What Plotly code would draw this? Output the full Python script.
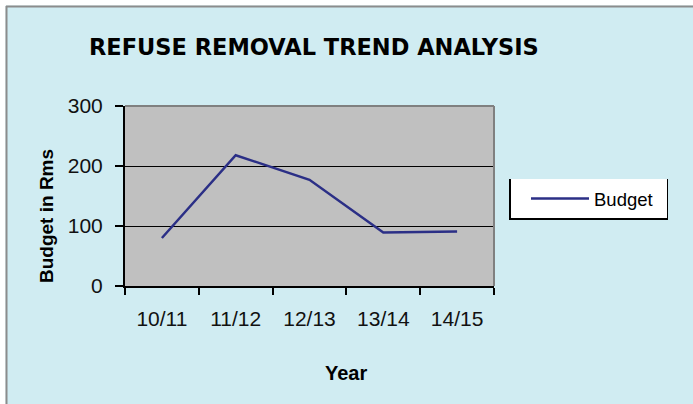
import plotly.graph_objects as go

# ---- data ----
years = ["10/11", "11/12", "12/13", "13/14", "14/15"]
budget = [80, 218, 177, 89, 91]
y_ticks = [0, 100, 200, 300]

W, H = 693, 404
L, R, T, B = 125, 199, 106, 118
PW, PH = W - L - R, H - T - B


def px(xp):
    return (xp - L) / PW


def py(yp):
    return (H - B - yp) / PH


fig = go.Figure()
fig.add_trace(go.Scatter(
    x=years, y=budget, mode="lines", name="Budget",
    line=dict(color="#2B2F86", width=2.5),
))

cyan = "#D0ECF2"
shapes = [
    # white strips at top and left of the image
    dict(type="rect", xref="paper", yref="paper", x0=px(-5), x1=px(W + 5), y0=py(5.5), y1=py(-5),
         fillcolor="white", line=dict(width=0), layer="above"),
    dict(type="rect", xref="paper", yref="paper", x0=px(-5), x1=px(5.5), y0=py(H + 5), y1=py(-5),
         fillcolor="white", line=dict(width=0), layer="above"),
    dict(type="line", xref="paper", yref="paper", x0=px(6), x1=px(W + 5), y0=py(6.5), y1=py(6.5),
         line=dict(color="#8C8C8C", width=2), layer="above"),
    dict(type="line", xref="paper", yref="paper", x0=px(6.5), x1=px(6.5), y0=py(6), y1=py(H + 5),
         line=dict(color="#8C8C8C", width=2), layer="above"),
    # gray top and right border of plot area
    dict(type="line", xref="paper", yref="paper", x0=0, x1=1, y0=1, y1=1,
         line=dict(color="#808080", width=2), layer="above"),
    dict(type="line", xref="paper", yref="paper", x0=1, x1=1, y0=0, y1=1,
         line=dict(color="#808080", width=2), layer="above"),
    # legend box
    dict(type="rect", xref="paper", yref="paper", x0=px(509.5), x1=px(667.5), y0=py(219.5), y1=py(179),
         fillcolor="white", line=dict(width=0), layer="above"),
    dict(type="line", xref="paper", yref="paper", x0=px(510), x1=px(510), y0=py(219.5), y1=py(179),
         line=dict(color="black", width=2), layer="above"),
    dict(type="line", xref="paper", yref="paper", x0=px(509), x1=px(668), y0=py(219), y1=py(219),
         line=dict(color="black", width=2), layer="above"),
    dict(type="line", xref="paper", yref="paper", x0=px(667.5), x1=px(667.5), y0=py(219.5), y1=py(179),
         line=dict(color="black", width=1), layer="above"),
]

annotations = [
    dict(text="<b>REFUSE REMOVAL TREND ANALYSIS</b>", xref="paper", yref="paper",
         x=px(314), y=py(47), xanchor="center", yanchor="middle", showarrow=False,
         font=dict(family="DejaVu Sans", size=22.5, color="black")),
    dict(text="<b>Year</b>", xref="paper", yref="paper",
         x=px(345.5), y=py(373), xanchor="center", yanchor="middle", showarrow=False,
         font=dict(family="Liberation Sans", size=20, color="black")),
    dict(text="<b>Budget in Rms</b>", xref="paper", yref="paper", textangle=-90,
         x=px(46.5), y=py(216.5), xanchor="center", yanchor="middle", showarrow=False,
         font=dict(family="Liberation Sans", size=19, color="black")),
]

fig.update_layout(
    width=W, height=H,
    margin=dict(l=L, r=R, t=T, b=B, pad=0),
    paper_bgcolor=cyan, plot_bgcolor="#C0C0C0",
    shapes=shapes, annotations=annotations,
    showlegend=True,
    legend=dict(x=px(526), y=py(199), xanchor="left", yanchor="middle",
                bgcolor="rgba(0,0,0,0)", borderwidth=0,
                font=dict(family="Liberation Sans", size=18.5, color="black"),
                itemwidth=58),
    xaxis=dict(type="category", categoryorder="array", categoryarray=years,
               range=[-0.5, 4.5], showgrid=False, zeroline=False,
               showline=True, linecolor="black", linewidth=2,
               ticks="outside", tickson="boundaries", ticklen=7, tickwidth=1.5, tickcolor="black",
               ticklabelstandoff=13,
               tickfont=dict(family="Liberation Sans", size=21, color="#111")),
    yaxis=dict(range=[0, 300], tickvals=y_ticks, showgrid=True, gridcolor="black", gridwidth=1,
               zeroline=False, showline=True, linecolor="black", linewidth=2,
               ticks="outside", ticklen=8, tickwidth=1.5, tickcolor="black",
               ticklabelstandoff=8,
               tickfont=dict(family="Liberation Sans", size=21, color="#111")),
)

fig.write_html("out.html", config={"displayModeBar": False},
               post_script="document.body.style.margin='0px';")
